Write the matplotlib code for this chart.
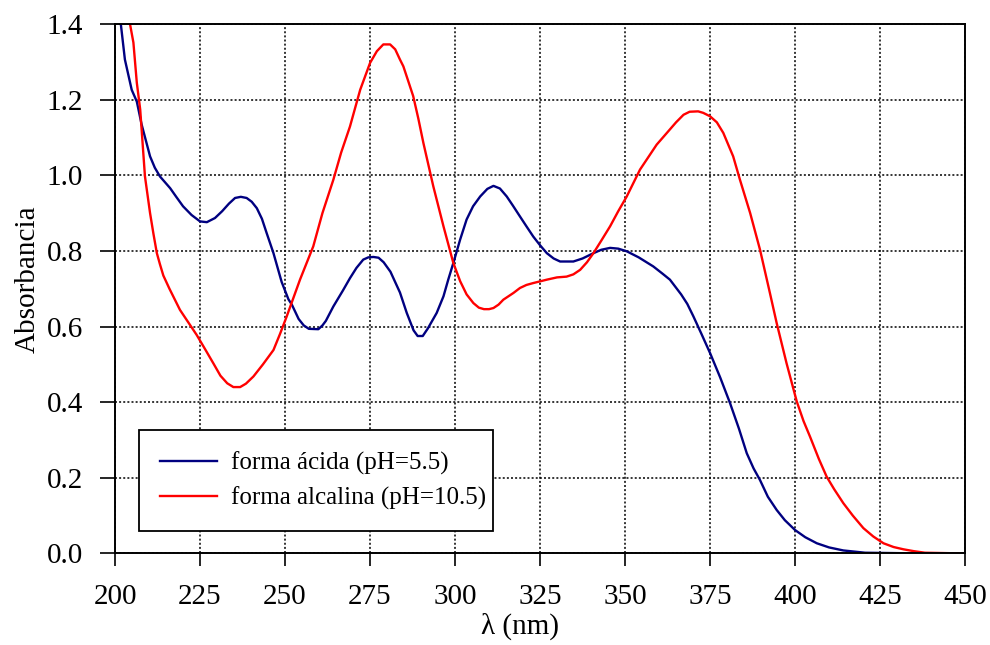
import matplotlib
matplotlib.use("Agg")
import matplotlib.pyplot as plt
from matplotlib.ticker import FormatStrFormatter

plt.rcParams['font.family'] = ['Liberation Serif', 'DejaVu Serif']

# forma acida (pH=5.5)
acid_wl = [201.0, 201.7, 202.9, 204.9, 206.4, 207.8, 210.3, 211.7, 213.2, 216.2,
           218.0, 220.0, 222.5, 225.0, 227.0, 229.4, 231.5, 233.5, 235.3, 237.0,
           238.7, 240.2, 241.7, 243.2, 244.6, 246.6, 249.0, 251.0, 252.0, 254.0,
           255.5, 257.0, 259.8, 261.0, 262.0, 264.2, 267.0, 269.1, 271.0, 273.0,
           274.5, 276.0, 277.5, 279.0, 281.0, 283.8, 285.8, 287.8, 289.0, 290.5,
           292.0, 294.6, 296.6, 298.0, 299.5, 301.5, 303.4, 305.3, 307.4, 309.5,
           311.3, 313.2, 315.2, 317.0, 319.1, 321.0, 323.0, 325.0, 327.0, 329.0,
           330.9, 334.8, 337.5, 340.7, 343.0, 345.6, 348.0, 350.5, 354.0, 358.3,
           361.0, 363.2, 366.5, 368.3, 370.1, 372.5, 375.0, 378.0, 380.9, 383.5,
           385.8, 387.8, 389.7, 392.0, 394.6, 397.0, 400.0, 403.0, 406.4, 410.0,
           414.2, 420.6, 438.0]
acid_abs = [1.47, 1.40, 1.306, 1.226, 1.195, 1.135, 1.05, 1.02, 0.997, 0.966,
            0.943, 0.918, 0.895, 0.878, 0.876, 0.887, 0.905, 0.925, 0.940, 0.943,
            0.940, 0.930, 0.913, 0.885, 0.847, 0.794, 0.718, 0.672, 0.658, 0.620,
            0.603, 0.594, 0.593, 0.603, 0.615, 0.653, 0.695, 0.728, 0.755, 0.777,
            0.783, 0.784, 0.782, 0.770, 0.745, 0.690, 0.636, 0.590, 0.575, 0.575,
            0.595, 0.636, 0.680, 0.724, 0.768, 0.830, 0.883, 0.918, 0.944, 0.964,
            0.972, 0.965, 0.944, 0.920, 0.891, 0.865, 0.838, 0.815, 0.794, 0.780,
            0.772, 0.772, 0.780, 0.794, 0.803, 0.808, 0.806, 0.799, 0.783, 0.759,
            0.740, 0.724, 0.685, 0.660, 0.627, 0.580, 0.530, 0.465, 0.397, 0.330,
            0.265, 0.225, 0.194, 0.150, 0.115, 0.088, 0.062, 0.043, 0.027, 0.016,
            0.008, 0.002, 0.0]

# forma alcalina (pH=10.5)
alk_wl = [203.8, 204.4, 205.4, 206.4, 207.4, 208.8, 210.3, 211.3, 212.3, 213.2,
          214.2, 216.0, 219.1, 222.0, 224.0, 226.5, 228.9, 231.0, 233.0, 234.8,
          236.8, 238.5, 240.7, 243.5, 246.6, 248.5, 250.5, 254.4, 258.3, 261.0,
          264.2, 266.5, 269.1, 272.1, 275.0, 277.0, 278.9, 280.9, 282.4, 283.8,
          284.8, 286.2, 287.7, 289.2, 290.7, 293.6, 296.6, 299.5, 301.5, 303.4,
          305.4, 307.0, 308.5, 310.0, 311.3, 312.8, 314.2, 317.2, 319.1, 321.0,
          323.0, 327.0, 330.0, 332.8, 334.8, 336.8, 338.8, 340.7, 343.0, 345.6,
          348.0, 350.5, 354.4, 357.0, 359.3, 362.3, 365.0, 367.2, 369.0, 371.5,
          373.0, 375.0, 377.0, 378.9, 381.8, 383.8, 386.8, 389.7, 392.6, 394.6,
          397.5, 400.5, 402.5, 404.4, 407.0, 409.3, 411.5, 414.2, 417.0, 420.1,
          423.0, 426.0, 429.0, 431.9, 435.0, 438.2, 450.0]
alk_abs = [1.45, 1.40, 1.351, 1.245, 1.174, 0.997, 0.900, 0.845, 0.794, 0.765,
           0.735, 0.700, 0.644, 0.605, 0.578, 0.540, 0.503, 0.470, 0.450, 0.440,
           0.440, 0.449, 0.468, 0.500, 0.538, 0.580, 0.627, 0.724, 0.812, 0.900,
           0.988, 1.060, 1.129, 1.226, 1.297, 1.328, 1.346, 1.346, 1.333, 1.306,
           1.288, 1.250, 1.209, 1.150, 1.085, 0.971, 0.865, 0.768, 0.720, 0.685,
           0.662, 0.650, 0.646, 0.646, 0.649, 0.658, 0.671, 0.689, 0.702, 0.710,
           0.715, 0.724, 0.730, 0.732, 0.738, 0.750, 0.770, 0.794, 0.827, 0.865,
           0.905, 0.944, 1.015, 1.050, 1.081, 1.112, 1.140, 1.160, 1.168, 1.169,
           1.165, 1.156, 1.140, 1.112, 1.050, 0.988, 0.900, 0.803, 0.689, 0.609,
           0.503, 0.402, 0.350, 0.309, 0.250, 0.203, 0.170, 0.133, 0.100, 0.067,
           0.045, 0.027, 0.017, 0.011, 0.006, 0.002, 0.0]

x_ticks = [200, 225, 250, 275, 300, 325, 350, 375, 400, 425, 450]
y_ticks = [0.0, 0.2, 0.4, 0.6, 0.8, 1.0, 1.2, 1.4]

fig = plt.figure(figsize=(9.9, 6.45), dpi=100)
ax = fig.add_axes([0.1162, 0.1419, 0.8586, 0.8209])

ax.plot(acid_wl, acid_abs, color='#000080', lw=1.7, label='forma ácida (pH=5.5)')
ax.plot(alk_wl, alk_abs, color='#ff0000', lw=1.7, label='forma alcalina (pH=10.5)')

ax.set_xlim(200, 450)
ax.set_ylim(0, 1.4)
ax.set_xticks(x_ticks)
ax.set_yticks(y_ticks)
ax.yaxis.set_major_formatter(FormatStrFormatter('%.1f'))

ax.grid(True, color='black', linestyle=(0, (1.3, 1.4)), lw=1.1)
ax.set_axisbelow(True)

for s in ax.spines.values():
    s.set_linewidth(1.4)
ax.tick_params(axis='x', direction='out', length=9, width=1.2, labelsize=21, pad=13)
ax.tick_params(axis='y', direction='out', length=11, width=1.2, labelsize=21, pad=12)

ax.set_xlabel('λ (nm)', fontsize=21)
ax.set_ylabel('Absorbancia', fontsize=21)
ax.xaxis.set_label_coords(0.476, -0.112)
ax.yaxis.set_label_coords(-0.088, 0.518)

leg = ax.legend(loc='lower left', bbox_to_anchor=(0.0282, 0.0425, 0.4165, 0.1832),
                mode='expand', borderaxespad=0, fontsize=18, frameon=True,
                fancybox=False, edgecolor='black', framealpha=1,
                handlelength=2.25, handletextpad=0.56, borderpad=0.85, labelspacing=0.45)
leg.get_frame().set_linewidth(1.3)

fig.savefig('out.png', dpi=100)
